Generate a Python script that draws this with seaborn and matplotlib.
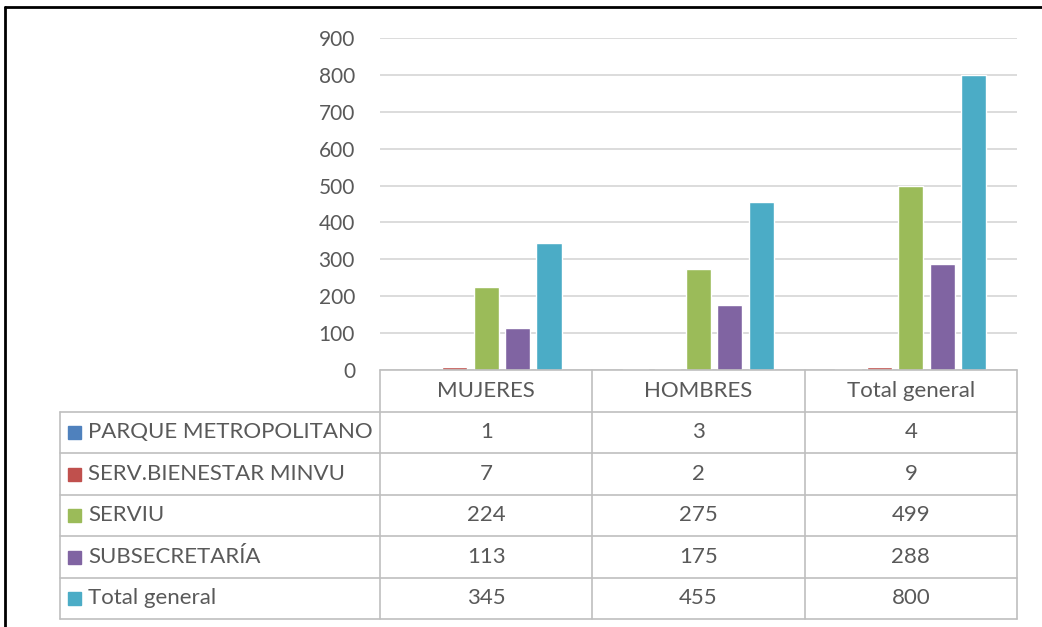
import numpy as np
import pandas as pd
import seaborn as sb
import matplotlib
matplotlib.use("Agg")
import matplotlib.pyplot as plt
from matplotlib.patches import Rectangle

categories = ["MUJERES", "HOMBRES", "Total general"]
series = ["PARQUE METROPOLITANO", "SERV.BIENESTAR MINVU", "SERVIU",
          "SUBSECRETARÍA", "Total general"]
parque = [1, 3, 4]
bienestar = [7, 2, 9]
serviu = [224, 275, 499]
subsecretaria = [113, 175, 288]
total = [345, 455, 800]
yticks = [0, 100, 200, 300, 400, 500, 600, 700, 800, 900]

colors = ["#4F81BD", "#C0504D", "#9BBB59", "#8064A2", "#4BACC6"]
txt = "#595959"
grid = "#D9D9D9"
font = "Lato"

values = [parque, bienestar, serviu, subsecretaria, total]
rows = []
for s, vals in zip(series, values):
    for c, v in zip(categories, vals):
        rows.append({"cat": c, "serie": s, "val": v})
df = pd.DataFrame(rows)

sb.set_style("white")
plt.rcParams['font.family'] = [font, 'DejaVu Sans']

W, H = 1042, 627
fig = plt.figure(figsize=(W / 100, H / 100), dpi=100)

# pixel layout of the excel chart
x0, x1 = 380, 1017
y_top, y_zero = 38, 370
row_h = 41.5
tab_left = 60

ax = fig.add_axes([x0 / W, 1 - y_zero / H, (x1 - x0) / W, (y_zero - y_top) / H])
sb.barplot(data=df, x="cat", y="val", hue="serie", palette=colors,
           order=categories, hue_order=series, width=0.74, gap=0.2,
           saturation=1, ax=ax, legend=False)
ax.set_ylim(0, 900)
ax.set_yticks(yticks)
ax.set_xlim(-0.5, 2.5)
ax.set_xticks([])
ax.set_xlabel("")
ax.set_ylabel("")
ax.yaxis.grid(True, color=grid, lw=1.3)
ax.set_axisbelow(True)
for sp in ax.spines.values():
    sp.set_visible(False)
ax.tick_params(axis="y", length=0, pad=18, labelsize=15, labelcolor=txt)

# data table
tx = fig.add_axes([0, 0, 1, 1])
tx.set_xlim(0, W)
tx.set_ylim(H, 0)
tx.axis("off")
col_w = (x1 - x0) / len(categories)
n_rows = len(series) + 1
y_bot = y_zero + n_rows * row_h
lc = "#BFBFBF"
# horizontal lines
tx.plot([x0, x1], [y_zero, y_zero], color=lc, lw=1.2)
for i in range(1, n_rows + 1):
    y = y_zero + i * row_h
    tx.plot([tab_left, x1], [y, y], color=lc, lw=1.2)
# vertical lines
tx.plot([tab_left, tab_left], [y_zero + row_h, y_bot], color=lc, lw=1.2)
for j in range(len(categories) + 1):
    x = x0 + j * col_w
    tx.plot([x, x], [y_zero, y_bot], color=lc, lw=1.2)

fs = 16
for j, c in enumerate(categories):
    tx.text(x0 + (j + 0.5) * col_w, y_zero + row_h / 2, c, ha="center",
            va="center", fontsize=fs, color=txt)
for i, (s, vals) in enumerate(zip(series, values)):
    yc = y_zero + (i + 1.5) * row_h
    tx.add_patch(Rectangle((tab_left + 8, yc - 6), 13, 13, color=colors[i]))
    tx.text(tab_left + 28, yc, s, ha="left", va="center", fontsize=fs, color=txt)
    for j, v in enumerate(vals):
        tx.text(x0 + (j + 0.5) * col_w, yc, str(v), ha="center", va="center",
                fontsize=fs, color=txt)

# black frame of the screenshot
tx.plot([5, W], [7, 7], color="black", lw=2)
tx.plot([5, 5], [7, H], color="black", lw=2)

fig.savefig("out.png", dpi=100)
